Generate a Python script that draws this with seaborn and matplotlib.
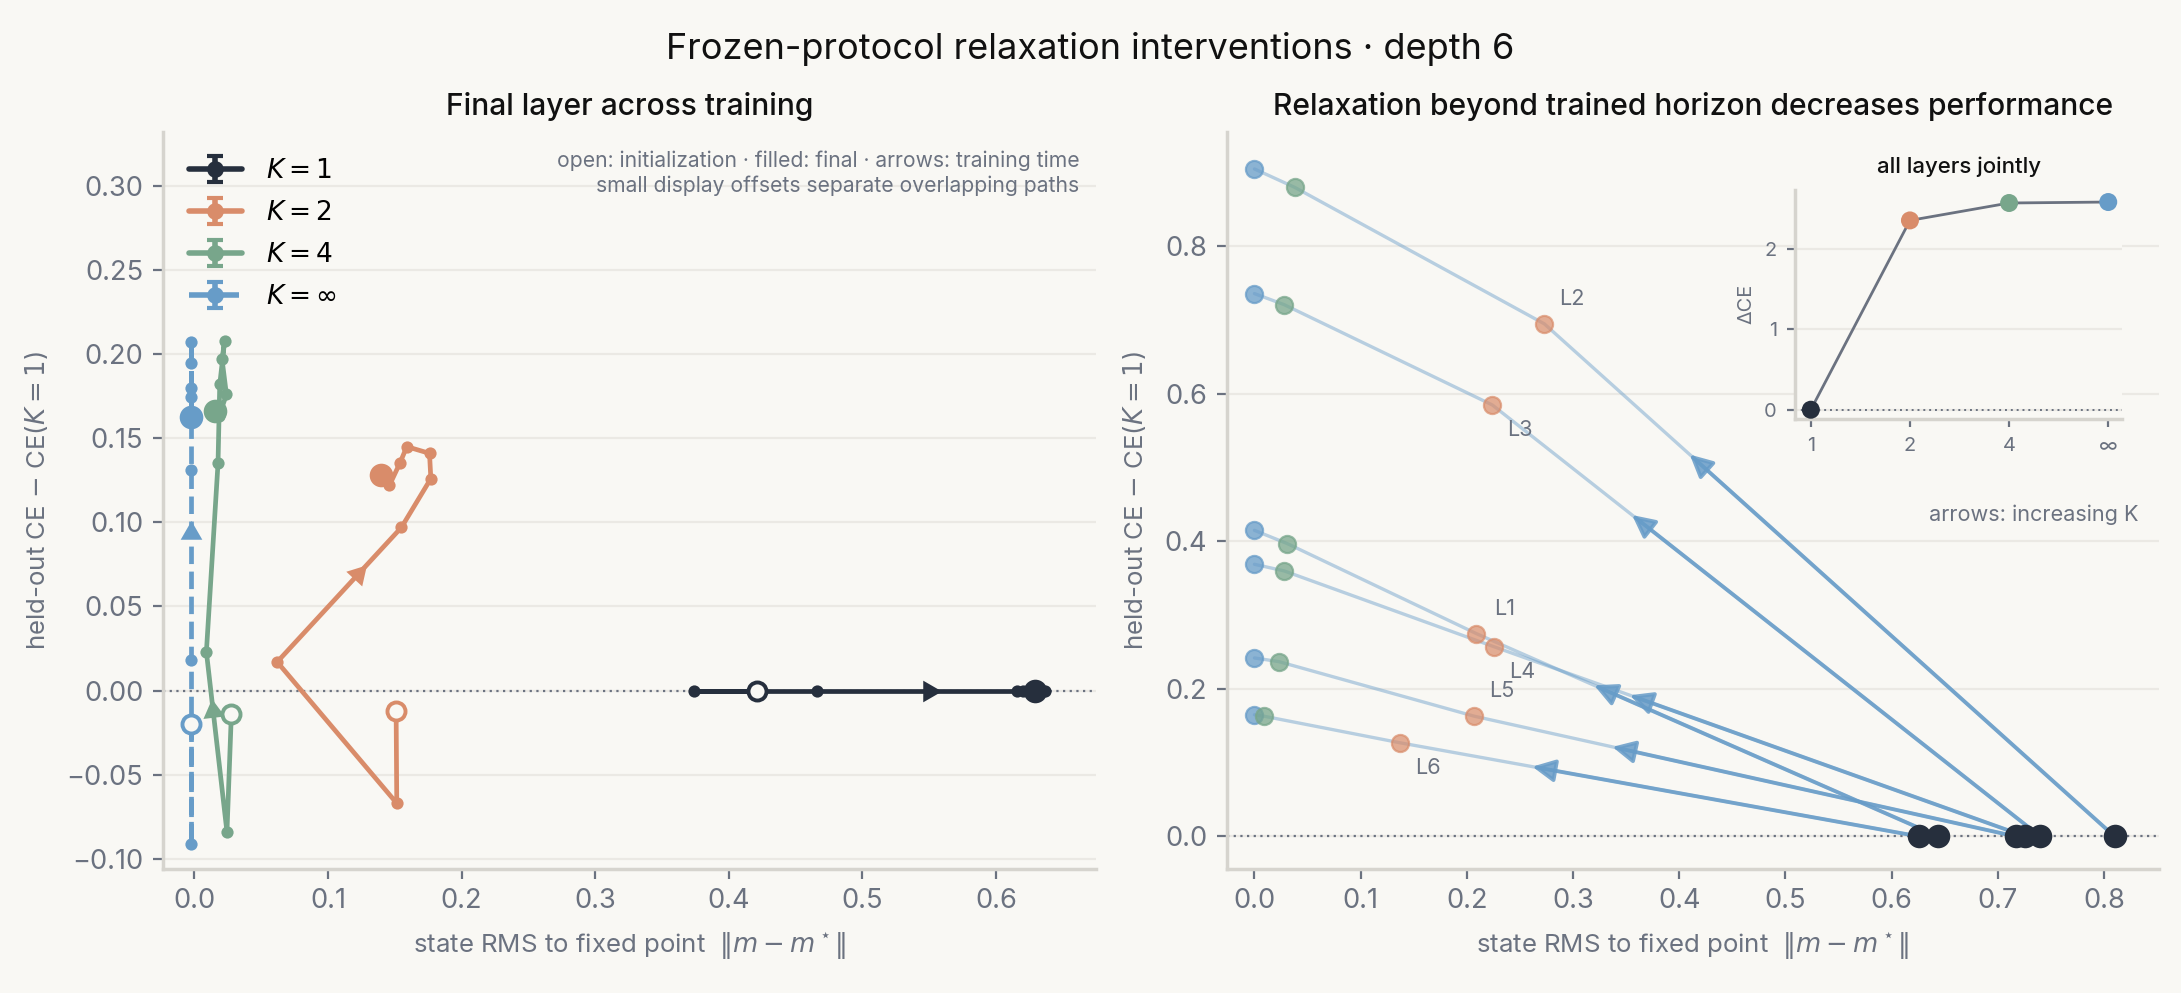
import numpy as np
import matplotlib
matplotlib.use("Agg")
import matplotlib.pyplot as plt
import seaborn as sns

# ---- left panel: final-layer trajectories over training (x includes display offsets)
K1_TRAJ_X = [0.421, 0.374, 0.466, 0.6155, 0.620, 0.637, 0.629]
K1_TRAJ_Y = [0.0, 0.0, 0.0, 0.0, 0.0, 0.0, 0.0]
K2_TRAJ_X = [0.151, 0.1515, 0.062, 0.155, 0.177, 0.176, 0.159, 0.154, 0.146, 0.1395]
K2_TRAJ_Y = [-0.012, -0.067, 0.017, 0.097, 0.126, 0.141, 0.145, 0.1355, 0.122, 0.128]
K4_TRAJ_X = [0.0277, 0.0244, 0.009, 0.0177, 0.019, 0.0227, 0.0207, 0.024, 0.0184, 0.0152]
K4_TRAJ_Y = [-0.0137, -0.084, 0.023, 0.135, 0.182, 0.208, 0.197, 0.176, 0.163, 0.166]
KINF_TRAJ_X = [-0.0028, -0.0028, -0.0028, -0.0028, -0.0028, -0.0028, -0.0028, -0.0028, -0.0028]
KINF_TRAJ_Y = [-0.0196, -0.091, 0.018, 0.131, 0.207, 0.195, 0.180, 0.1745, 0.1626]

# ---- right panel: per-layer relaxation (K = inf, 4, 2, 1)
LAYERS = ["L1", "L2", "L3", "L4", "L5", "L6"]
K1_X = [0.644, 0.810, 0.740, 0.726, 0.717, 0.626]
K1_Y = [0.0, 0.0, 0.0, 0.0, 0.0, 0.0]
K2_X = [0.209, 0.273, 0.224, 0.226, 0.207, 0.137]
K2_Y = [0.275, 0.695, 0.585, 0.257, 0.163, 0.127]
K4_X = [0.031, 0.038, 0.028, 0.028, 0.023, 0.009]
K4_Y = [0.397, 0.880, 0.721, 0.360, 0.237, 0.163]
KINF_X = [0.0, 0.0, 0.0, 0.0, 0.0, 0.0]
KINF_Y = [0.415, 0.905, 0.736, 0.369, 0.242, 0.165]

# ---- inset: all layers jointly
JOINT_K = ["1", "2", "4", "∞"]
JOINT_DCE = [0.0, 2.357, 2.574, 2.586]

BG = "#f9f8f4"
GRID = "#ebe9e4"
SPINE = "#d6d4ce"
MUTED = "#6b7280"
DARK = "#262f3d"
ORANGE = "#d98c6a"
GREEN = "#78a68b"
BLUE = "#679cc8"

sns.set_theme(style="whitegrid")
plt.rcParams.update({
    "figure.facecolor": BG,
    "axes.facecolor": BG,
    "axes.edgecolor": SPINE,
    "grid.color": GRID,
    "grid.linewidth": 0.8,
    "xtick.color": MUTED,
    "ytick.color": MUTED,
    "axes.labelcolor": MUTED,
    "xtick.bottom": True,
    "ytick.left": True,
    "xtick.major.size": 3.5,
    "ytick.major.size": 3.5,
    "xtick.major.width": 0.8,
    "ytick.major.width": 0.8,
    "xtick.labelsize": 9.8,
    "ytick.labelsize": 9.8,
    "axes.labelsize": 9.3,
})
plt.rcParams["font.family"] = ["Inter", "DejaVu Sans"]

fig = plt.figure(figsize=(10.905, 4.965), dpi=200)
ax = fig.add_axes([0.0746, 0.125, 0.428, 0.742])
ax2 = fig.add_axes([0.5625, 0.125, 0.4275, 0.742])

for a in (ax, ax2):
    a.grid(axis="x", visible=False)
    for s in ("top", "right"):
        a.spines[s].set_visible(False)
    a.axhline(0, color=MUTED, ls=(0, (1, 2)), lw=0.8, zorder=1)

# ---------------- left panel
ax.set_xlim(-0.0237, 0.675)
ax.set_ylim(-0.106, 0.332)
ax.set_xticks(np.arange(0, 0.61, 0.1))
ax.set_yticks(np.arange(-0.10, 0.31, 0.05))
ax.yaxis.set_major_formatter(matplotlib.ticker.FuncFormatter(lambda v, p: f"{v:.2f}".replace("-", "\u2212")))
ax.xaxis.set_major_formatter(matplotlib.ticker.FuncFormatter(lambda v, p: f"{v:.1f}".replace("-", "\u2212")))

# label, x, y, colour, linestyle, arrow segment, position along segment
series = [
    ("$K=1$", K1_TRAJ_X, K1_TRAJ_Y, DARK, "-", 2, 0.56),
    ("$K=2$", K2_TRAJ_X, K2_TRAJ_Y, ORANGE, "-", 2, 0.65),
    ("$K=4$", K4_TRAJ_X, K4_TRAJ_Y, GREEN, "-", 1, 0.67),
    ("$K=\\infty$", KINF_TRAJ_X, KINF_TRAJ_Y, BLUE, "--", 2, 0.67),
]

handles, labels = [], []
for label, xs, ys, c, ls, seg, t in series:
    sns.lineplot(x=xs, y=ys, sort=False, estimator=None, ax=ax, color=c,
                 lw=1.7, linestyle=ls, marker="o", ms=4.4, mew=0, zorder=3)
    ax.plot(xs[-1], ys[-1], "o", color=c, ms=8.5, mew=0, zorder=4)
    ax.plot(xs[0], ys[0], "o", mfc=BG, mec=c, mew=1.4, ms=6.5, zorder=5)
    # direction arrow along a mid-training segment
    p0 = np.array([xs[seg], ys[seg]])
    p1 = np.array([xs[seg + 1], ys[seg + 1]])
    pos = p0 + t * (p1 - p0)
    d0, d1 = ax.transData.transform(p0), ax.transData.transform(p1)
    ang = np.degrees(np.arctan2(d1[1] - d0[1], d1[0] - d0[0])) - 90
    ax.plot(pos[0], pos[1], marker=(3, 0, ang), ms=9, color=c, mew=0, zorder=5)
    h = ax.errorbar([np.nan], [np.nan], yerr=[np.nan], color=c, marker="o", ms=5,
                    lw=2.0, ls=ls, capsize=3, capthick=1.5)
    handles.append(h)
    labels.append(label)

leg = ax.legend(handles, labels, loc="upper left", frameon=False, fontsize=9.5,
                handlelength=2.0, handletextpad=0.9, borderaxespad=0.6,
                labelspacing=0.6, bbox_to_anchor=(0.0, 1.0))
for t in leg.get_texts():
    t.set_color("black")

ax.text(0.982, 0.975, "open: initialization · filled: final · arrows: training time\n"
        "small display offsets separate overlapping paths",
        transform=ax.transAxes, ha="right", va="top", fontsize=7.6, color=MUTED,
        linespacing=1.3)
ax.set_title("Final layer across training", fontsize=10.8, fontweight="medium",
             color="#111111", pad=6)
ax.set_xlabel(r"state RMS to fixed point  $\|m - m^\star\|$", labelpad=6)
ax.set_ylabel(r"held-out CE $-$ CE($K=1$)", labelpad=6)

# ---------------- right panel
ax2.set_xlim(-0.026, 0.852)
ax2.set_ylim(-0.044, 0.955)
ax2.set_xticks(np.arange(0, 0.81, 0.1))
ax2.set_yticks(np.arange(0, 0.81, 0.2))
ax2.xaxis.set_major_formatter(matplotlib.ticker.FuncFormatter(lambda v, p: f"{v:.1f}"))
ax2.yaxis.set_major_formatter(matplotlib.ticker.FuncFormatter(lambda v, p: f"{v:.1f}"))

label_above = {"L1": True, "L2": True, "L3": False, "L4": False, "L5": True, "L6": False}
for i, lay in enumerate(LAYERS):
    px = [KINF_X[i], K4_X[i], K2_X[i], K1_X[i]]
    py = [KINF_Y[i], K4_Y[i], K2_Y[i], K1_Y[i]]
    sns.lineplot(x=px, y=py, sort=False, estimator=None, ax=ax2, color=BLUE,
                 alpha=0.45, lw=1.2, zorder=2)
    start = np.array([K1_X[i], K1_Y[i]])
    end = np.array([K2_X[i], K2_Y[i]])
    tip = start + 0.745 * (end - start)
    ax2.annotate("", xy=tip, xytext=start,
                 arrowprops=dict(arrowstyle="-|>", color=BLUE, lw=1.4, alpha=0.85,
                                 mutation_scale=17, shrinkA=0, shrinkB=0), zorder=3)
    dy = 9 if label_above[lay] else -9
    ax2.annotate(lay, (K2_X[i], K2_Y[i]), xytext=(10, dy), textcoords="offset points",
                 ha="center", va="center", fontsize=7.8, color=MUTED)

sns.scatterplot(x=KINF_X, y=KINF_Y, ax=ax2, color=BLUE, s=38, alpha=0.75,
                edgecolor=BLUE, linewidth=0.8, zorder=4)
sns.scatterplot(x=K4_X, y=K4_Y, ax=ax2, color=GREEN, s=38, alpha=0.75,
                edgecolor=GREEN, linewidth=0.8, zorder=4)
sns.scatterplot(x=K2_X, y=K2_Y, ax=ax2, color=ORANGE, s=38, alpha=0.7,
                edgecolor=ORANGE, linewidth=0.8, zorder=4)
sns.scatterplot(x=K1_X, y=K1_Y, ax=ax2, color=DARK, s=72, edgecolor=DARK,
                linewidth=0, zorder=5)

ax2.text(0.978, 0.48, "arrows: increasing K", transform=ax2.transAxes,
         ha="right", va="center", fontsize=7.8, color=MUTED)
ax2.set_title("Relaxation beyond trained horizon decreases performance",
              fontsize=10.8, fontweight="medium", color="#111111", pad=6)
ax2.set_xlabel(r"state RMS to fixed point  $\|m - m^\star\|$", labelpad=6)
ax2.set_ylabel(r"held-out CE $-$ CE($K=1$)", labelpad=6)

# ---------------- inset
axi = fig.add_axes([0.823, 0.578, 0.150, 0.231])
axi.set_facecolor(BG)
axi.grid(axis="x", visible=False)
for s in ("top", "right"):
    axi.spines[s].set_visible(False)
pos_k = np.arange(len(JOINT_K))
axi.axhline(0, color=MUTED, ls=(0, (1, 2)), lw=0.7, zorder=1)
sns.lineplot(x=pos_k, y=JOINT_DCE, ax=axi, color=MUTED, lw=1.0, zorder=2)
sns.scatterplot(x=pos_k, y=JOINT_DCE, ax=axi, hue=JOINT_K,
                palette=[DARK, ORANGE, GREEN, BLUE], s=42, linewidth=0,
                legend=False, zorder=3)
axi.set_xlim(-0.16, 3.14)
axi.set_ylim(-0.116, 2.74)
axi.set_xticks(pos_k)
axi.set_xticklabels(JOINT_K)
axi.set_yticks([0, 1, 2])
axi.tick_params(labelsize=7.2, length=3)
axi.set_ylabel("ΔCE", fontsize=7.2, labelpad=3)
axi.set_title("all layers jointly", fontsize=8, fontweight="medium",
              color="#111111", pad=6)

fig.suptitle("Frozen-protocol relaxation interventions · depth 6", fontsize=13,
             color="#111111", y=0.968)

fig.savefig("out.png", dpi=200, facecolor=BG)
